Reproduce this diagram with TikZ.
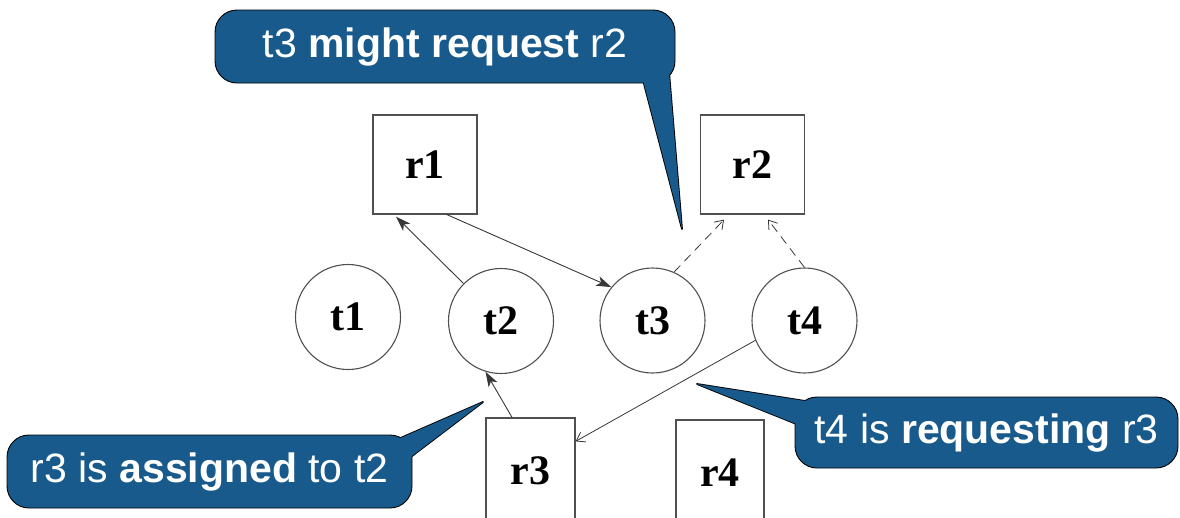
\documentclass[tikz,border=0pt]{standalone}
\usepackage{fontspec}
\setmainfont{Liberation Serif}
\newfontfamily\calloutfont{Liberation Sans}
\usetikzlibrary{arrows.meta,calc}
\definecolor{calloutblue}{RGB}{24,90,140}
\definecolor{edgegray}{RGB}{55,55,55}
\definecolor{shapegray}{RGB}{80,80,80}
\tikzset{
  task/.style={circle, draw=shapegray, line width=1.1pt, minimum size=105pt,
    inner sep=0pt, font=\fontsize{42}{42}\selectfont\bfseries},
  resource/.style={rectangle, draw=shapegray, line width=1.3pt, minimum width=104pt,
    minimum height=99pt, inner sep=0pt, font=\fontsize{42}{42}\selectfont\bfseries},
  assign/.style={draw=edgegray, line width=0.9pt, -{Stealth[length=15pt,width=10pt,inset=4pt]}},
  request/.style={draw=edgegray, line width=0.8pt, -{Straight Barb[length=8pt,width=11pt]}},
  claim/.style={request, dash pattern=on 9pt off 6pt},
  bubble/.style={fill=calloutblue, draw=black, line width=0.9pt, rounded corners=22pt,
    text=white, font=\calloutfont\fontsize{41}{41}\selectfont, inner sep=0pt},
  tailline/.style={draw=black, fill=calloutblue, line width=1.8pt, line join=round},
}
\begin{document}
\begin{tikzpicture}[x=1pt,y=-1pt]
\useasboundingbox (0,0) rectangle (1180,517);
\clip (0,0) rectangle (1180,517);

% resources
\node[resource] (r1) at (425,164.5) {r1};
\node[resource] (r2) at (752.5,164.5) {r2};
\node[resource, minimum width=89pt, minimum height=106pt] (r3) at (530.5,471) {r3};
\node[resource, minimum width=88pt, minimum height=106pt] (r4) at (720,473) {r4};

% tasks
\node[task] (t1) at (348,317) {t1};
\node[task] (t2) at (501,321) {t2};
\node[task] (t3) at (652.5,320.5) {t3};
\node[task] (t4) at (804.5,320.5) {t4};

% edges of the allocation graph
\draw[assign] (t2.135) -- ([xshift=-29pt,yshift=-2pt]r1.south);
\draw[assign] ([xshift=22pt]r1.south) -- (t3.141);
\draw[claim] (t3.66) -- ([xshift=-28.5pt,yshift=-5pt]r2.south);
\draw[claim] (t4.north) -- ([xshift=15.5pt,yshift=-5pt]r2.south);
\draw[assign] ([xshift=-18.5pt]r3.north) -- (t2.253);
\draw[request] (t4.202) -- ([yshift=-24pt]r3.north east);

% callout: claim edge
\coordinate (c1tip) at (682,229);
\coordinate (c1a) at (643,80);
\coordinate (c1b) at (669,72);
\draw[tailline] (c1a) -- (c1tip) -- (c1b) -- cycle;
\node[bubble, minimum width=460pt, minimum height=73pt] (c1) at (445,46.5)
  {t3 \textbf{might request} r2};
\fill[calloutblue] (c1a) -- (c1tip) -- (c1b) -- cycle;

% callout: assignment edge
\coordinate (c2tip) at (483,402);
\coordinate (c2a) at (396,440);
\coordinate (c2b) at (408,459);
\draw[tailline] (c2a) -- (c2tip) -- (c2b) -- cycle;
\node[bubble, minimum width=405pt, minimum height=73pt] (c2) at (209.5,471.5)
  {r3 is \textbf{assigned} to t2};
\fill[calloutblue] (c2a) -- (c2tip) -- (c2b) -- cycle;

% callout: request edge
\coordinate (c3tip) at (697,384);
\coordinate (c3a) at (805,401);
\coordinate (c3b) at (799,425);
\draw[tailline] (c3a) -- (c3tip) -- (c3b) -- cycle;
\node[bubble, minimum width=383pt, minimum height=71pt] (c3) at (986.5,432.5)
  {t4 is \textbf{requesting} r3};
\fill[calloutblue] (c3a) -- (c3tip) -- (c3b) -- cycle;
\end{tikzpicture}
\end{document}
